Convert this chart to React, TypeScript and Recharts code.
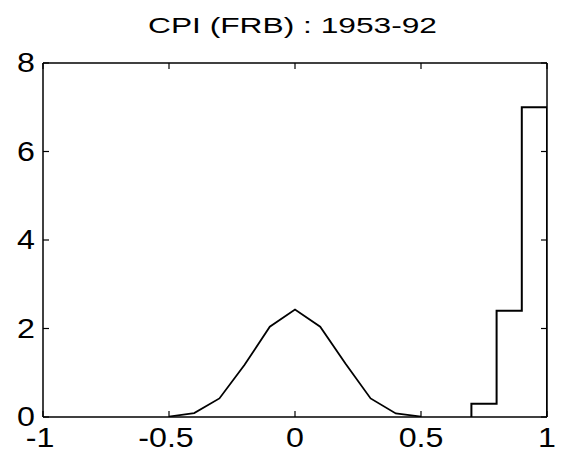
import React from 'react';
import { LineChart, Line, XAxis, YAxis } from 'recharts';

const title = 'CPI (FRB) : 1953-92';

const xTicks = [-1, -0.5, 0, 0.5, 1];
const yTicks = [0, 2, 4, 6, 8];

// smooth density curve around zero
const curveX = [-0.5, -0.4, -0.3, -0.2, -0.1, 0, 0.1, 0.2, 0.3, 0.4, 0.5];
const curveY = [0.01, 0.09, 0.42, 1.18, 2.04, 2.43, 2.04, 1.21, 0.42, 0.08, 0.01];

// histogram bins near one
const binEdges = [0.7, 0.8, 0.9, 1.0];
const binHeights = [0.3, 2.4, 7];

const curveData = curveX.map((x, i) => ({ x, y: curveY[i] }));

const histData = [
  { x: binEdges[0], y: 0 },
  ...binHeights.map((h, i) => ({ x: binEdges[i], y: h })),
  { x: binEdges[binEdges.length - 1], y: binHeights[binHeights.length - 1] },
  { x: binEdges[binEdges.length - 1], y: 0 },
];

const FONT = '"Liberation Sans", Arial, Helvetica, sans-serif';
const TICK_LEN = 6;
const STRETCH = 1.15;

const fmt = (v: number) => String(v);

function BottomTick(props: any) {
  const { x, y, payload } = props;
  // minus sign pushes the label a little to the left in the original
  const dx = payload.value < 0 ? -3 : 0;
  return (
    <g>
      <line x1={x} y1={y} x2={x} y2={y - TICK_LEN} stroke="#000" strokeWidth={1.2} />
      <text
        transform={`translate(${x + dx},${y + 30}) scale(${STRETCH},1)`}
        textAnchor="middle"
        fontFamily={FONT}
        fontSize={28}
        fill="#000"
      >
        {fmt(payload.value)}
      </text>
    </g>
  );
}

function LeftTick(props: any) {
  const { x, y, payload } = props;
  return (
    <g>
      <line x1={x} y1={y} x2={x + TICK_LEN} y2={y} stroke="#000" strokeWidth={1.2} />
      <text
        transform={`translate(${x - 8},${y + 9}) scale(${STRETCH},1)`}
        textAnchor="end"
        fontFamily={FONT}
        fontSize={28}
        fill="#000"
      >
        {fmt(payload.value)}
      </text>
    </g>
  );
}

function TopTick(props: any) {
  const { x, y } = props;
  return <line x1={x} y1={y} x2={x} y2={y + TICK_LEN} stroke="#000" strokeWidth={1.2} />;
}

function RightTick(props: any) {
  const { x, y } = props;
  return <line x1={x} y1={y} x2={x - TICK_LEN} y2={y} stroke="#000" strokeWidth={1.2} />;
}

const axisLine = { stroke: '#000', strokeWidth: 1.5 };

export default function App() {
  return (
    <div style={{ position: 'absolute', left: 0, top: 0, width: 563, height: 454, background: '#fff' }}>
      <div style={{ position: 'absolute', left: 0, top: 0 }}>
        <LineChart width={563} height={454} margin={{ top: 0, right: 0, bottom: 0, left: 0 }}>
          <XAxis
            xAxisId="b"
            dataKey="x"
            type="number"
            domain={[-1, 1]}
            ticks={xTicks}
            height={37}
            tickSize={0}
            tickMargin={0}
            tickLine={false}
            axisLine={axisLine}
            tick={<BottomTick />}
            interval={0}
            allowDataOverflow
          />
          <XAxis
            xAxisId="t"
            orientation="top"
            dataKey="x"
            type="number"
            domain={[-1, 1]}
            ticks={xTicks}
            height={63}
            tickSize={0}
            tickMargin={0}
            tickLine={false}
            axisLine={axisLine}
            tick={<TopTick />}
            interval={0}
            allowDataOverflow
          />
          <YAxis
            yAxisId="l"
            type="number"
            domain={[0, 8]}
            ticks={yTicks}
            width={43}
            tickSize={0}
            tickMargin={0}
            tickLine={false}
            axisLine={axisLine}
            tick={<LeftTick />}
            interval={0}
            allowDataOverflow
          />
          <YAxis
            yAxisId="r"
            orientation="right"
            type="number"
            domain={[0, 8]}
            ticks={yTicks}
            width={16}
            tickSize={0}
            tickMargin={0}
            tickLine={false}
            axisLine={axisLine}
            tick={<RightTick />}
            interval={0}
            allowDataOverflow
          />
          <Line
            xAxisId="b"
            yAxisId="l"
            data={curveData}
            dataKey="y"
            type="linear"
            stroke="#000"
            strokeWidth={1.8}
            dot={false}
            isAnimationActive={false}
          />
          <Line
            xAxisId="b"
            yAxisId="l"
            data={histData}
            dataKey="y"
            type="stepAfter"
            stroke="#000"
            strokeWidth={2}
            dot={false}
            isAnimationActive={false}
          />
        </LineChart>
      </div>
      <svg width={563} height={60} style={{ position: 'absolute', left: 0, top: 0 }}>
        <text
          x={148}
          y={33}
          textLength={289}
          lengthAdjust="spacingAndGlyphs"
          fontFamily={FONT}
          fontSize={22}
          fill="#000"
        >
          {title}
        </text>
      </svg>
    </div>
  );
}
